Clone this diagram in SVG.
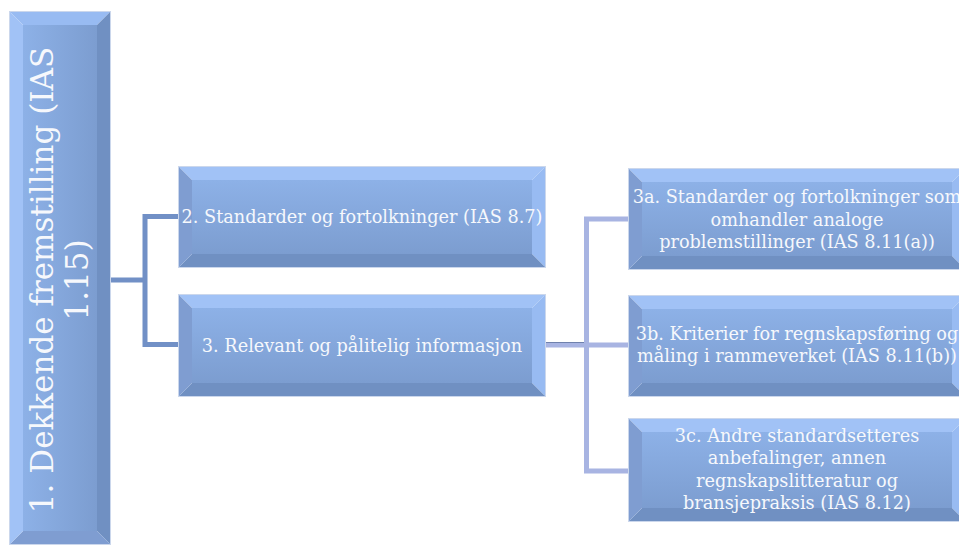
<svg xmlns="http://www.w3.org/2000/svg" width="959" height="546" viewBox="0 0 959 546">
<defs>
<linearGradient id="faceV" x1="0" y1="0" x2="0" y2="1">
<stop offset="0" stop-color="#8db1e7"/>
<stop offset="1" stop-color="#7c9dd0"/>
</linearGradient>
<linearGradient id="faceH" x1="0" y1="0" x2="1" y2="0">
<stop offset="0" stop-color="#8db1e7"/>
<stop offset="1" stop-color="#7c9dd0"/>
</linearGradient>
<style>
.edge{fill:none;stroke:#cbd7ec;stroke-width:2}
.bt{fill:#a1c2f6}
.br{fill:#98bbf2}
.bb{fill:#7090c2}
.bl{fill:#7f9dd1}
.fv{fill:url(#faceV)}
.fh{fill:url(#faceH)}
.t{font-family:"DejaVu Serif","Liberation Serif",serif;fill:#f6f8fc;text-anchor:middle}
.s{font-size:17.7px}
.c1{fill:none;stroke:#7190c6;stroke-width:5}
.c2{fill:none;stroke:#a8b4e2;stroke-width:5}
</style>
</defs>
<rect width="959" height="546" fill="#ffffff"/>

<g id="connectors">
<path class="c1" d="M179,216.5 H145 V344.5 H179 M110,280 H145"/>
<path class="c2" d="M629,219 H586.5 V471 H629 M545,345 H629"/>
<path d="M545,342.5 H584" fill="none" stroke="#6f81ad" stroke-width="1"/>
</g>

<g id="node1">
<rect class="edge" x="10" y="12" width="100" height="532"/>
<polygon class="br" points="10,12 110,12 97,25 23,25"/>
<polygon class="bb" points="110,12 110,544 97,531 97,25"/>
<polygon class="bl" points="10,544 110,544 97,531 23,531"/>
<polygon class="bt" points="10,12 23,25 23,531 10,544"/>
<rect class="fh" x="23" y="25" width="74" height="506"/>
<g transform="translate(0,280) rotate(-90)">
<text class="t" x="0" y="53" font-size="31">1. Dekkende fremstilling (IAS</text>
<text class="t" x="0" y="88" font-size="31">1.15)</text>
</g>
</g>

<g id="node2">
<rect class="edge" x="179" y="167" width="366" height="100"/>
<polygon class="bt" points="179,167 545,167 532,180 192,180"/>
<polygon class="br" points="545,167 545,267 532,254 532,180"/>
<polygon class="bb" points="179,267 545,267 532,254 192,254"/>
<polygon class="bl" points="179,167 192,180 192,254 179,267"/>
<rect class="fv" x="192" y="180" width="340" height="74"/>
<text class="t s" x="362" y="223">2. Standarder og fortolkninger (IAS 8.7)</text>
</g>

<g id="node3">
<rect class="edge" x="179" y="295" width="366" height="101"/>
<polygon class="bt" points="179,295 545,295 532,308 192,308"/>
<polygon class="br" points="545,295 545,396 532,383 532,308"/>
<polygon class="bb" points="179,396 545,396 532,383 192,383"/>
<polygon class="bl" points="179,295 192,308 192,383 179,396"/>
<rect class="fv" x="192" y="308" width="340" height="75"/>
<text class="t s" x="362" y="352">3. Relevant og pålitelig informasjon</text>
</g>

<g id="node3a">
<rect class="edge" x="629" y="169" width="336" height="100"/>
<polygon class="bt" points="629,169 965,169 952,182 642,182"/>
<polygon class="br" points="965,169 965,269 952,256 952,182"/>
<polygon class="bb" points="629,269 965,269 952,256 642,256"/>
<polygon class="bl" points="629,169 642,182 642,256 629,269"/>
<rect class="fv" x="642" y="182" width="310" height="74"/>
<text class="t s" x="797" y="203">3a. Standarder og fortolkninger som</text>
<text class="t s" x="797" y="226">omhandler analoge</text>
<text class="t s" x="797" y="248">problemstillinger (IAS 8.11(a))</text>
</g>

<g id="node3b">
<rect class="edge" x="629" y="296" width="336" height="100"/>
<polygon class="bt" points="629,296 965,296 952,309 642,309"/>
<polygon class="br" points="965,296 965,396 952,383 952,309"/>
<polygon class="bb" points="629,396 965,396 952,383 642,383"/>
<polygon class="bl" points="629,296 642,309 642,383 629,396"/>
<rect class="fv" x="642" y="309" width="310" height="74"/>
<text class="t s" x="797" y="340">3b. Kriterier for regnskapsføring og</text>
<text class="t s" x="797" y="362">måling i rammeverket (IAS 8.11(b))</text>
</g>

<g id="node3c">
<rect class="edge" x="629" y="419" width="336" height="102"/>
<polygon class="bt" points="629,419 965,419 952,432 642,432"/>
<polygon class="br" points="965,419 965,521 952,508 952,432"/>
<polygon class="bb" points="629,521 965,521 952,508 642,508"/>
<polygon class="bl" points="629,419 642,432 642,508 629,521"/>
<rect class="fv" x="642" y="432" width="310" height="76"/>
<text class="t s" x="797" y="442">3c. Andre standardsetteres</text>
<text class="t s" x="797" y="464">anbefalinger, annen</text>
<text class="t s" x="797" y="487">regnskapslitteratur og</text>
<text class="t s" x="797" y="509">bransjepraksis (IAS 8.12)</text>
</g>
</svg>
